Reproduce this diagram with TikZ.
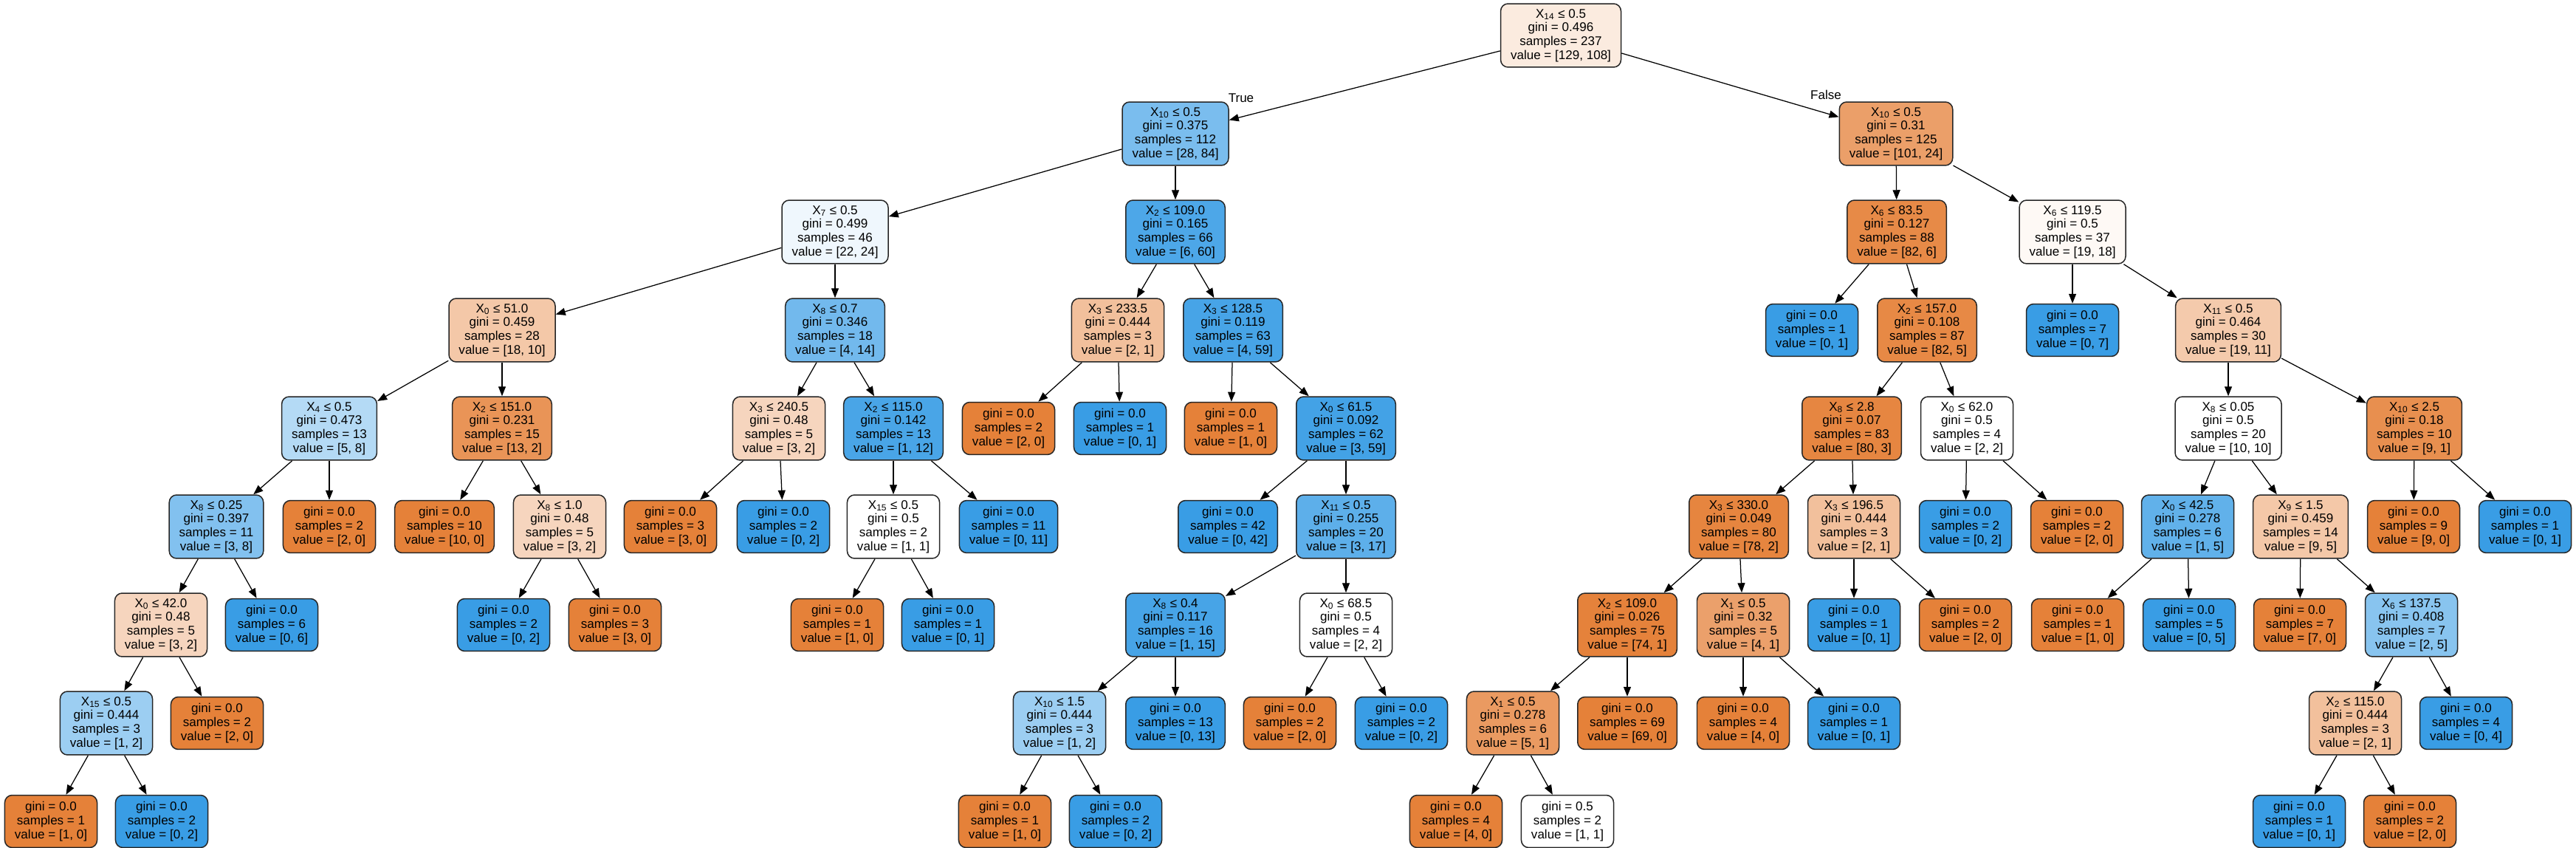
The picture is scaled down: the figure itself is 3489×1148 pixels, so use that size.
\documentclass[tikz,border=0pt]{standalone}
\usepackage{fontspec}
\setmainfont{Liberation Sans}
\usetikzlibrary{arrows.meta}
\definecolor{cA}{HTML}{E58139}
\definecolor{cB}{HTML}{399DE5}
\newcommand{\tfont}{\fontsize{9.7}{10.6}\selectfont}
\newcommand{\spl}[5]{X\textsubscript{#1} ≤ #2\\gini = #3\\samples = #4\\value = [#5]}
\newcommand{\lf}[3]{gini = #1\\samples = #2\\value = [#3]}

\begin{document}
\begin{tikzpicture}[x=0.02cm, y=-0.02cm,
    box/.style={draw=black!85, line width=0.03cm, rounded corners=0.2cm,
                align=center, inner xsep=0.27cm, inner ysep=0pt, font=\tfont},
    split/.style={box, minimum height=1.72cm},
    leaf/.style={box, minimum height=1.42cm},
    edge/.style={line width=0.025cm, -{Triangle[length=0.26cm,width=0.2cm]}}]
\useasboundingbox (0,0) rectangle (3489,1148);

% rows 0-2
\node (0) at (2114,48) [split, fill=cA!16!white] {\spl{14}{0.5}{0.496}{237}{129, 108}};
\node (1) at (1592,181) [split, fill=cB!67!white] {\spl{10}{0.5}{0.375}{112}{28, 84}};
\node (44) at (2568,181) [split, fill=cA!76!white] {\spl{10}{0.5}{0.31}{125}{101, 24}};
\node (2) at (1131,314) [split, fill=cB!8!white] {\spl{7}{0.5}{0.499}{46}{22, 24}};
\node (27) at (1592,314) [split, fill=cB!90!white] {\spl{2}{109.0}{0.165}{66}{6, 60}};
\node (45) at (2569,314) [split, fill=cA!93!white] {\spl{6}{83.5}{0.127}{88}{82, 6}};
\node (64) at (2807,314) [split, fill=cA!5!white] {\spl{6}{119.5}{0.5}{37}{19, 18}};

% row 3
\node (3) at (680,447) [split, fill=cA!44!white] {\spl{0}{51.0}{0.459}{28}{18, 10}};
\node (18) at (1131,447) [split, fill=cB!71!white] {\spl{8}{0.7}{0.346}{18}{4, 14}};
\node (28) at (1514,447) [split, fill=cA!50!white] {\spl{3}{233.5}{0.444}{3}{2, 1}};
\node (31) at (1670,447) [split, fill=cB!93!white] {\spl{3}{128.5}{0.119}{63}{4, 59}};
\node (46) at (2454,447) [leaf, fill=cB] {\lf{0.0}{1}{0, 1}};
\node (47) at (2610,447) [split, fill=cA!94!white] {\spl{2}{157.0}{0.108}{87}{82, 5}};
\node (65) at (2807,447) [leaf, fill=cB] {\lf{0.0}{7}{0, 7}};
\node (66) at (3018,447) [split, fill=cA!42!white] {\spl{11}{0.5}{0.464}{30}{19, 11}};

% row 4
\node (4) at (446,580) [split, fill=cB!38!white] {\spl{4}{0.5}{0.473}{13}{5, 8}};
\node (13) at (680,580) [split, fill=cA!85!white] {\spl{2}{151.0}{0.231}{15}{13, 2}};
\node (19) at (1055,580) [split, fill=cA!33!white] {\spl{3}{240.5}{0.48}{5}{3, 2}};
\node (22) at (1210,580) [split, fill=cB!92!white] {\spl{2}{115.0}{0.142}{13}{1, 12}};
\node (29) at (1366,580) [leaf, fill=cA] {\lf{0.0}{2}{2, 0}};
\node (30) at (1517,580) [leaf, fill=cB] {\lf{0.0}{1}{0, 1}};
\node (32) at (1667,580) [leaf, fill=cA] {\lf{0.0}{1}{1, 0}};
\node (33) at (1823,580) [split, fill=cB!95!white] {\spl{0}{61.5}{0.092}{62}{3, 59}};
\node (48) at (2508,580) [split, fill=cA!96!white] {\spl{8}{2.8}{0.07}{83}{80, 3}};
\node (61) at (2664,580) [split, fill=white] {\spl{0}{62.0}{0.5}{4}{2, 2}};
\node (67) at (3018,580) [split, fill=white] {\spl{8}{0.05}{0.5}{20}{10, 10}};
\node (78) at (3270,580) [split, fill=cA!89!white] {\spl{10}{2.5}{0.18}{10}{9, 1}};

% row 5
\node (5) at (293,713) [split, fill=cB!63!white] {\spl{8}{0.25}{0.397}{11}{3, 8}};
\node (12) at (446,713) [leaf, fill=cA] {\lf{0.0}{2}{2, 0}};
\node (14) at (602,713) [leaf, fill=cA] {\lf{0.0}{10}{10, 0}};
\node (15) at (758,713) [split, fill=cA!33!white] {\spl{8}{1.0}{0.48}{5}{3, 2}};
\node (20) at (908,713) [leaf, fill=cA] {\lf{0.0}{3}{3, 0}};
\node (21) at (1061,713) [leaf, fill=cB] {\lf{0.0}{2}{0, 2}};
\node (23) at (1210,713) [split, fill=white] {\spl{15}{0.5}{0.5}{2}{1, 1}};
\node (26) at (1366,713) [leaf, fill=cB] {\lf{0.0}{11}{0, 11}};
\node (34) at (1663,713) [leaf, fill=cB] {\lf{0.0}{42}{0, 42}};
\node (35) at (1823,713) [split, fill=cB!82!white] {\spl{11}{0.5}{0.255}{20}{3, 17}};
\node (49) at (2355,713) [split, fill=cA!97!white] {\spl{3}{330.0}{0.049}{80}{78, 2}};
\node (58) at (2511,713) [split, fill=cA!50!white] {\spl{3}{196.5}{0.444}{3}{2, 1}};
\node (62) at (2662,713) [leaf, fill=cB] {\lf{0.0}{2}{0, 2}};
\node (63) at (2813,713) [leaf, fill=cA] {\lf{0.0}{2}{2, 0}};
\node (68) at (2963,713) [split, fill=cB!80!white] {\spl{0}{42.5}{0.278}{6}{1, 5}};
\node (71) at (3116,713) [split, fill=cA!44!white] {\spl{9}{1.5}{0.459}{14}{9, 5}};
\node (79) at (3269,713) [leaf, fill=cA] {\lf{0.0}{9}{9, 0}};
\node (80) at (3420,713) [leaf, fill=cB] {\lf{0.0}{1}{0, 1}};

% row 6
\node (6) at (218,846) [split, fill=cA!33!white] {\spl{0}{42.0}{0.48}{5}{3, 2}};
\node (11) at (368,846) [leaf, fill=cB] {\lf{0.0}{6}{0, 6}};
\node (16) at (682,846) [leaf, fill=cB] {\lf{0.0}{2}{0, 2}};
\node (17) at (833,846) [leaf, fill=cA] {\lf{0.0}{3}{3, 0}};
\node (24) at (1134,846) [leaf, fill=cA] {\lf{0.0}{1}{1, 0}};
\node (25) at (1284,846) [leaf, fill=cB] {\lf{0.0}{1}{0, 1}};
\node (36) at (1592,846) [split, fill=cB!93!white] {\spl{8}{0.4}{0.117}{16}{1, 15}};
\node (41) at (1823,846) [split, fill=white] {\spl{0}{68.5}{0.5}{4}{2, 2}};
\node (50) at (2204,846) [split, fill=cA!99!white] {\spl{2}{109.0}{0.026}{75}{74, 1}};
\node (55) at (2361,846) [split, fill=cA!75!white] {\spl{1}{0.5}{0.32}{5}{4, 1}};
\node (59) at (2511,846) [leaf, fill=cB] {\lf{0.0}{1}{0, 1}};
\node (60) at (2662,846) [leaf, fill=cA] {\lf{0.0}{2}{2, 0}};
\node (69) at (2814,846) [leaf, fill=cA] {\lf{0.0}{1}{1, 0}};
\node (70) at (2965,846) [leaf, fill=cB] {\lf{0.0}{5}{0, 5}};
\node (72) at (3115,846) [leaf, fill=cA] {\lf{0.0}{7}{7, 0}};
\node (73) at (3266,846) [split, fill=cB!60!white] {\spl{6}{137.5}{0.408}{7}{2, 5}};

% row 7
\node (7) at (144,979) [split, fill=cB!50!white] {\spl{15}{0.5}{0.444}{3}{1, 2}};
\node (10) at (294,979) [leaf, fill=cA] {\lf{0.0}{2}{2, 0}};
\node (37) at (1435,979) [split, fill=cB!50!white] {\spl{10}{1.5}{0.444}{3}{1, 2}};
\node (40) at (1592,979) [leaf, fill=cB] {\lf{0.0}{13}{0, 13}};
\node (42) at (1747,979) [leaf, fill=cA] {\lf{0.0}{2}{2, 0}};
\node (43) at (1898,979) [leaf, fill=cB] {\lf{0.0}{2}{0, 2}};
\node (51) at (2049,979) [split, fill=cA!80!white] {\spl{1}{0.5}{0.278}{6}{5, 1}};
\node (54) at (2204,979) [leaf, fill=cA] {\lf{0.0}{69}{69, 0}};
\node (56) at (2361,979) [leaf, fill=cA] {\lf{0.0}{4}{4, 0}};
\node (57) at (2511,979) [leaf, fill=cB] {\lf{0.0}{1}{0, 1}};
\node (74) at (3190,979) [split, fill=cA!50!white] {\spl{2}{115.0}{0.444}{3}{2, 1}};
\node (77) at (3340,979) [leaf, fill=cB] {\lf{0.0}{4}{0, 4}};

% row 8
\node (8) at (69,1112) [leaf, fill=cA] {\lf{0.0}{1}{1, 0}};
\node (9) at (219,1112) [leaf, fill=cB] {\lf{0.0}{2}{0, 2}};
\node (38) at (1361,1112) [leaf, fill=cA] {\lf{0.0}{1}{1, 0}};
\node (39) at (1511,1112) [leaf, fill=cB] {\lf{0.0}{2}{0, 2}};
\node (52) at (1972,1112) [leaf, fill=cA] {\lf{0.0}{4}{4, 0}};
\node (53) at (2123,1112) [leaf, fill=white] {\lf{0.5}{2}{1, 1}};
\node (75) at (3114,1112) [leaf, fill=cB] {\lf{0.0}{1}{0, 1}};
\node (76) at (3264,1112) [leaf, fill=cA] {\lf{0.0}{2}{2, 0}};

\foreach \a/\b in {0/1,0/44,1/2,1/27,2/3,2/18,3/4,3/13,4/5,4/12,5/6,5/11,6/7,6/10,
    7/8,7/9,13/14,13/15,15/16,15/17,18/19,18/22,19/20,19/21,22/23,22/26,23/24,23/25,
    27/28,27/31,28/29,28/30,31/32,31/33,33/34,33/35,35/36,35/41,36/37,36/40,37/38,37/39,
    41/42,41/43,44/45,44/64,45/46,45/47,47/48,47/61,48/49,48/58,49/50,49/55,50/51,50/54,
    51/52,51/53,55/56,55/57,58/59,58/60,61/62,61/63,64/65,64/66,66/67,66/78,67/68,67/71,
    68/69,68/70,71/72,71/73,73/74,73/77,74/75,74/76,78/79,78/80}
  \draw[edge] (\a) -- (\b);

\node (true) at (1681,133) [font=\tfont] {True};
\node (false) at (2473,128) [font=\tfont] {False};
\end{tikzpicture}
\end{document}
